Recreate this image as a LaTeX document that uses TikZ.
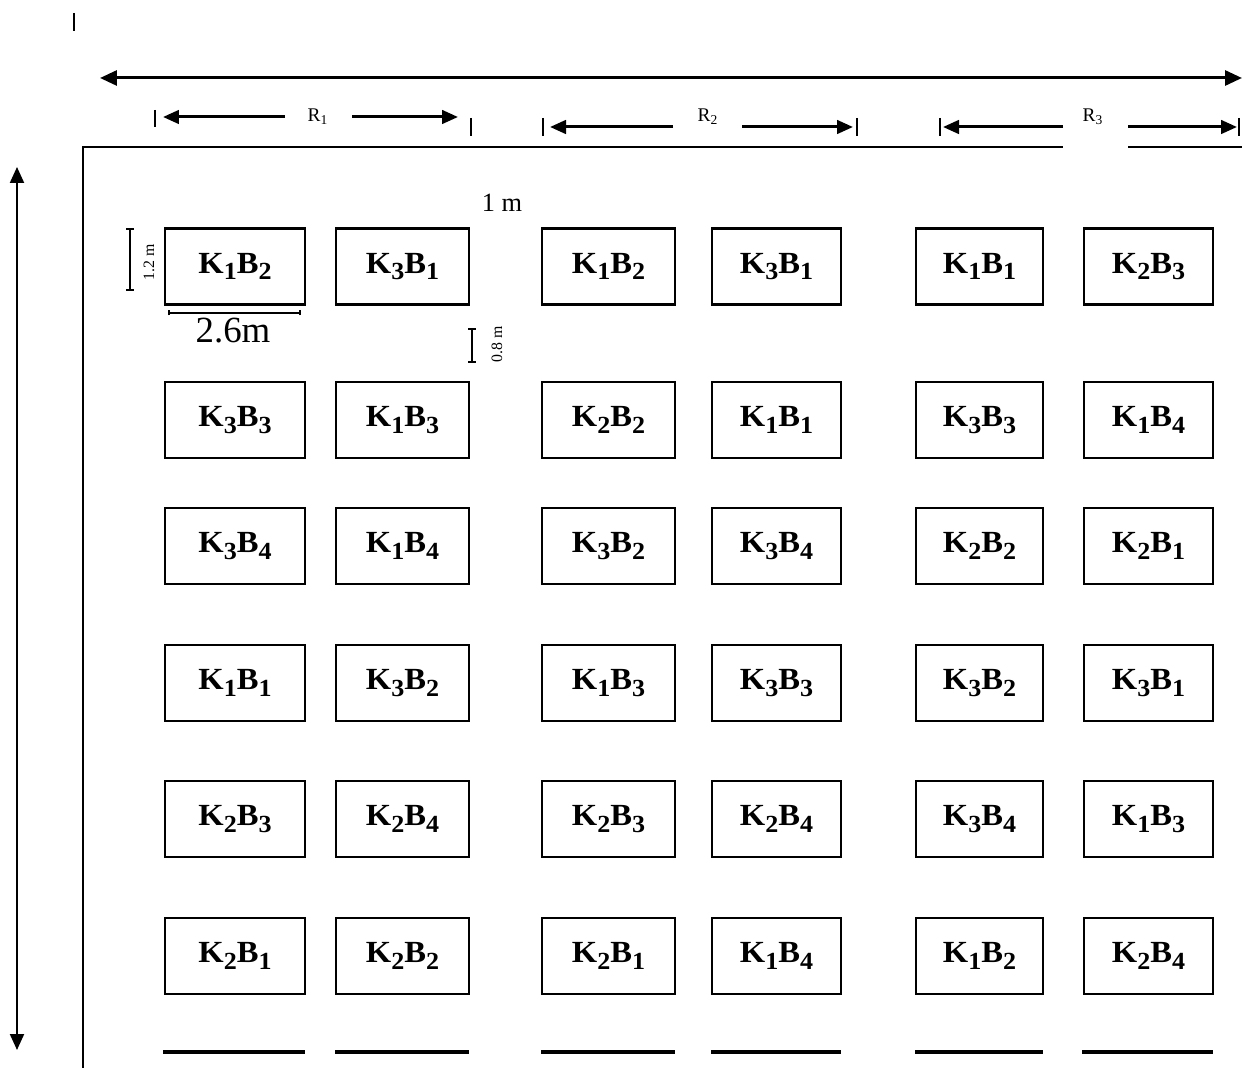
\documentclass[tikz,border=0pt]{standalone}
\usepackage{fontspec}
\setmainfont{Liberation Serif}
\usetikzlibrary{arrows.meta}
\newcommand\mysub[1]{\raisebox{-0.45ex}{\fontsize{14}{15}\selectfont #1}}
\newcommand\kb[2]{\scalebox{1.06}[1]{K\mysub{#1}B\mysub{#2}}}
\tikzset{
  plot/.style={draw, line width=1.2pt, minimum height=1.52cm, inner sep=0pt,
    font=\fontsize{17.5}{19}\selectfont\bfseries},
  frameline/.style={line width=1.1pt},
  bigarrow/.style={line width=1.7pt, {Triangle[length=0.34cm,width=0.3cm]}-{Triangle[length=0.34cm,width=0.3cm]}},
  rarrow/.style={line width=1.7pt, -{Triangle[length=0.32cm,width=0.27cm]}},
  vbar/.style={line width=1.0pt},
  sidearrow/.style={line width=1.2pt, {Triangle[length=0.32cm,width=0.28cm]}-{Triangle[length=0.32cm,width=0.28cm]}},
  baseline/.style={line width=1.9pt},
  dimline/.style={line width=0.9pt},
  rlab/.style={font=\fontsize{11}{12}\selectfont, inner sep=0pt},
  smalllab/.style={font=\fontsize{9}{10}\selectfont, inner sep=0pt, rotate=90},
}
\begin{document}
\begin{tikzpicture}[x=0.02cm,y=-0.02cm]
\useasboundingbox (0,0) rectangle (1242,1070);
% stray mark
\draw[vbar] (74,13) -- (74,31);
% top long arrow
\coordinate (tl) at (100,78); \coordinate (tr) at (1242,78);
\draw[bigarrow] (tl) -- (tr);
% R1
\coordinate (r1a) at (155,110); \coordinate (r1b) at (155,127);
\draw[vbar] (r1a) -- (r1b);
\node[rlab] (R1) at (318,117) {R\textsubscript{1}};
\coordinate (r1l) at (285,117); \coordinate (r1lt) at (163,117);
\draw[rarrow] (r1l) -- (r1lt);
\coordinate (r1r) at (352,117); \coordinate (r1rt) at (458,117);
\draw[rarrow] (r1r) -- (r1rt);
\coordinate (r1c) at (471,118); \coordinate (r1d) at (471,136);
\draw[vbar] (r1c) -- (r1d);
% R2
\coordinate (r2a) at (543,118); \coordinate (r2b) at (543,136);
\draw[vbar] (r2a) -- (r2b);
\node[rlab] (R2) at (708,117) {R\textsubscript{2}};
\coordinate (r2l) at (673,127); \coordinate (r2lt) at (550,127);
\draw[rarrow] (r2l) -- (r2lt);
\coordinate (r2r) at (742,127); \coordinate (r2rt) at (853,127);
\draw[rarrow] (r2r) -- (r2rt);
\coordinate (r2c) at (857,118); \coordinate (r2d) at (857,136);
\draw[vbar] (r2c) -- (r2d);
% R3
\coordinate (r3a) at (940,118); \coordinate (r3b) at (940,136);
\draw[vbar] (r3a) -- (r3b);
\node[rlab] (R3) at (1093,117) {R\textsubscript{3}};
\coordinate (r3l) at (1063,127); \coordinate (r3lt) at (943,127);
\draw[rarrow] (r3l) -- (r3lt);
\coordinate (r3r) at (1128,127); \coordinate (r3rt) at (1237,127);
\draw[rarrow] (r3r) -- (r3rt);
\coordinate (r3c) at (1239,118); \coordinate (r3d) at (1239,136);
\draw[vbar] (r3c) -- (r3d);
% frame
\coordinate (f0) at (83,1068); \coordinate (f1) at (83,147);
\coordinate (f2) at (1063,147); \coordinate (f3) at (1128,147); \coordinate (f4) at (1242,147);
\draw[frameline] (f0) -- (f1) -- (f2);
\draw[frameline] (f3) -- (f4);
% side arrow
\coordinate (sa) at (17,167); \coordinate (sb) at (17,1050);
\draw[sidearrow] (sa) -- (sb);
% boxes
\node[plot, minimum width=2.80cm] (b11) at (235,266.5) {\kb12};
\node[plot, minimum width=2.66cm] (b12) at (402.5,266.5) {\kb31};
\node[plot, minimum width=2.66cm] (b13) at (608.5,266.5) {\kb12};
\node[plot, minimum width=2.58cm] (b14) at (776.5,266.5) {\kb31};
\node[plot, minimum width=2.54cm] (b15) at (979.5,266.5) {\kb11};
\node[plot, minimum width=2.58cm] (b16) at (1148.5,266.5) {\kb23};
\node[plot, minimum width=2.80cm] (b21) at (235,420) {\kb33};
\node[plot, minimum width=2.66cm] (b22) at (402.5,420) {\kb13};
\node[plot, minimum width=2.66cm] (b23) at (608.5,420) {\kb22};
\node[plot, minimum width=2.58cm] (b24) at (776.5,420) {\kb11};
\node[plot, minimum width=2.54cm] (b25) at (979.5,420) {\kb33};
\node[plot, minimum width=2.58cm] (b26) at (1148.5,420) {\kb14};
\node[plot, minimum width=2.80cm] (b31) at (235,546) {\kb34};
\node[plot, minimum width=2.66cm] (b32) at (402.5,546) {\kb14};
\node[plot, minimum width=2.66cm] (b33) at (608.5,546) {\kb32};
\node[plot, minimum width=2.58cm] (b34) at (776.5,546) {\kb34};
\node[plot, minimum width=2.54cm] (b35) at (979.5,546) {\kb22};
\node[plot, minimum width=2.58cm] (b36) at (1148.5,546) {\kb21};
\node[plot, minimum width=2.80cm] (b41) at (235,683) {\kb11};
\node[plot, minimum width=2.66cm] (b42) at (402.5,683) {\kb32};
\node[plot, minimum width=2.66cm] (b43) at (608.5,683) {\kb13};
\node[plot, minimum width=2.58cm] (b44) at (776.5,683) {\kb33};
\node[plot, minimum width=2.54cm] (b45) at (979.5,683) {\kb32};
\node[plot, minimum width=2.58cm] (b46) at (1148.5,683) {\kb31};
\node[plot, minimum width=2.80cm] (b51) at (235,819) {\kb23};
\node[plot, minimum width=2.66cm] (b52) at (402.5,819) {\kb24};
\node[plot, minimum width=2.66cm] (b53) at (608.5,819) {\kb23};
\node[plot, minimum width=2.58cm] (b54) at (776.5,819) {\kb24};
\node[plot, minimum width=2.54cm] (b55) at (979.5,819) {\kb34};
\node[plot, minimum width=2.58cm] (b56) at (1148.5,819) {\kb13};
\node[plot, minimum width=2.80cm] (b61) at (235,956) {\kb21};
\node[plot, minimum width=2.66cm] (b62) at (402.5,956) {\kb22};
\node[plot, minimum width=2.66cm] (b63) at (608.5,956) {\kb21};
\node[plot, minimum width=2.58cm] (b64) at (776.5,956) {\kb14};
\node[plot, minimum width=2.54cm] (b65) at (979.5,956) {\kb12};
\node[plot, minimum width=2.58cm] (b66) at (1148.5,956) {\kb24};
% bottom lines
\foreach \a/\b in {163/305, 335/469, 541/675, 711/841, 915/1043, 1082/1213}
  \draw[baseline] (\a,1052) -- (\b,1052);
% dimensions
\node[font=\fontsize{15}{17}\selectfont, inner sep=0pt] (onem) at (502,203) {1 m};
\coordinate (h1) at (130,229); \coordinate (h2) at (130,290);
\draw[dimline] (h1) -- (h2);
\draw[dimline] ([xshift=-0.08cm]h1) -- ([xshift=0.08cm]h1);
\draw[dimline] ([xshift=-0.08cm]h2) -- ([xshift=0.08cm]h2);
\node[smalllab] (hl) at (149,262) {1.2 m};
\coordinate (e1) at (472,329); \coordinate (e2) at (472,362);
\draw[dimline] (e1) -- (e2);
\draw[dimline] ([xshift=-0.08cm]e1) -- ([xshift=0.08cm]e1);
\draw[dimline] ([xshift=-0.08cm]e2) -- ([xshift=0.08cm]e2);
\node[smalllab] (el) at (497,344) {0.8 m};
\coordinate (w1) at (169,313); \coordinate (w2) at (300,313);
\draw[dimline] (w1) -- (w2);
\draw[dimline] ([yshift=-0.05cm]w1) -- ([yshift=0.05cm]w1);
\draw[dimline] ([yshift=-0.05cm]w2) -- ([yshift=0.05cm]w2);
\node[font=\fontsize{21}{23}\selectfont, inner sep=0pt] (wl) at (233,331) {2.6m};
\end{tikzpicture}
\end{document}
